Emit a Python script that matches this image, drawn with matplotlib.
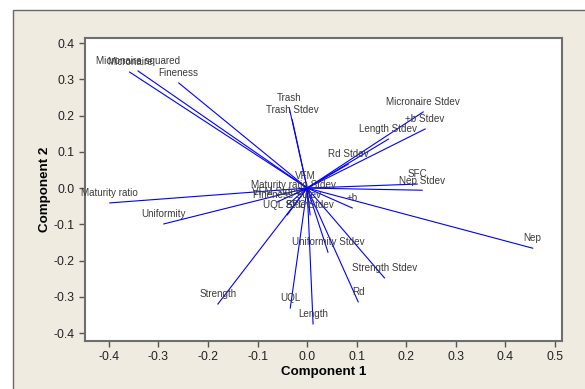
import matplotlib
matplotlib.use("Agg")
import matplotlib.pyplot as plt
from matplotlib.patches import Rectangle

# loadings of the first two principal components
variables = ["Micronaire", "Micronaire squared", "Fineness", "Trash", "Trash Stdev",
             "Micronaire Stdev", "+b Stdev", "Length Stdev", "Rd Stdev", "VFM",
             "Maturity ratio Stdev", "SFC", "Nep Stdev", "VFM Stdev", "Fineness Stdev",
             "+b", "UQL Stdev", "SFC Stdev", "Maturity ratio", "Uniformity",
             "Uniformity Stdev", "Nep", "Strength Stdev", "Strength", "UQL", "Rd", "Length"]
comp1 = [-0.358, -0.341, -0.259, -0.036, -0.030,
         0.234, 0.238, 0.164, 0.083, -0.004,
         -0.028, 0.222, 0.232, -0.061, -0.040,
         0.091, -0.040, 0.006, -0.398, -0.289,
         0.042, 0.455, 0.156, -0.180, -0.034, 0.103, 0.012]
comp2 = [0.320, 0.323, 0.290, 0.221, 0.188,
         0.210, 0.163, 0.135, 0.066, 0.006,
         -0.019, 0.011, -0.006, -0.039, -0.047,
         -0.055, -0.074, -0.074, -0.041, -0.099,
         -0.177, -0.166, -0.248, -0.320, -0.331, -0.314, -0.375]

xticks = [-0.4, -0.3, -0.2, -0.1, 0.0, 0.1, 0.2, 0.3, 0.4, 0.5]
yticks = [-0.4, -0.3, -0.2, -0.1, 0.0, 0.1, 0.2, 0.3, 0.4]

plt.rcParams['font.family'] = ['Liberation Sans', 'DejaVu Sans']

fig = plt.figure(figsize=(5.85, 3.89), dpi=100)
fig.patch.set_facecolor('white')
# beige panel behind the graph
panel = Rectangle((13 / 585, -0.01), 1, 1 - 10 / 389 + 0.01, transform=fig.transFigure,
                  facecolor='#efebe1', edgecolor='#6a6a6a', linewidth=1.0, zorder=-5)
fig.add_artist(panel)

ax = fig.add_axes([85 / 585, 1 - 341 / 389, 477 / 585, 303 / 389])
ax.set_zorder(2)
ax.set_facecolor('white')

for name, x, y in zip(variables, comp1, comp2):
    ax.plot([0, x], [0, y], color='#0000ff', linewidth=0.8)
    ax.annotate(name, (x, y), xytext=(0, 7), textcoords='offset points',
                ha='center', va='center', fontsize=7.1, color='#3a3a3a')

ax.set_xlim(-0.448, 0.514)
ax.set_ylim(-0.422, 0.414)
ax.set_xticks(xticks)
ax.set_yticks(yticks)
ax.set_xticklabels([f"{t:.1f}" for t in xticks])
ax.set_yticklabels([f"{t:.1f}" for t in yticks])
ax.tick_params(direction='out', length=4, width=1, color='#555555',
               labelsize=8.8, labelcolor='#222222')
for s in ax.spines.values():
    s.set_color('#6e6e6e')
    s.set_linewidth(1.5)

ax.set_xlabel("Component 1", fontsize=9.6, fontweight='bold', labelpad=2)
ax.set_ylabel("Component 2", fontsize=9.6, fontweight='bold', labelpad=2)

plt.savefig("out.png", dpi=100)
